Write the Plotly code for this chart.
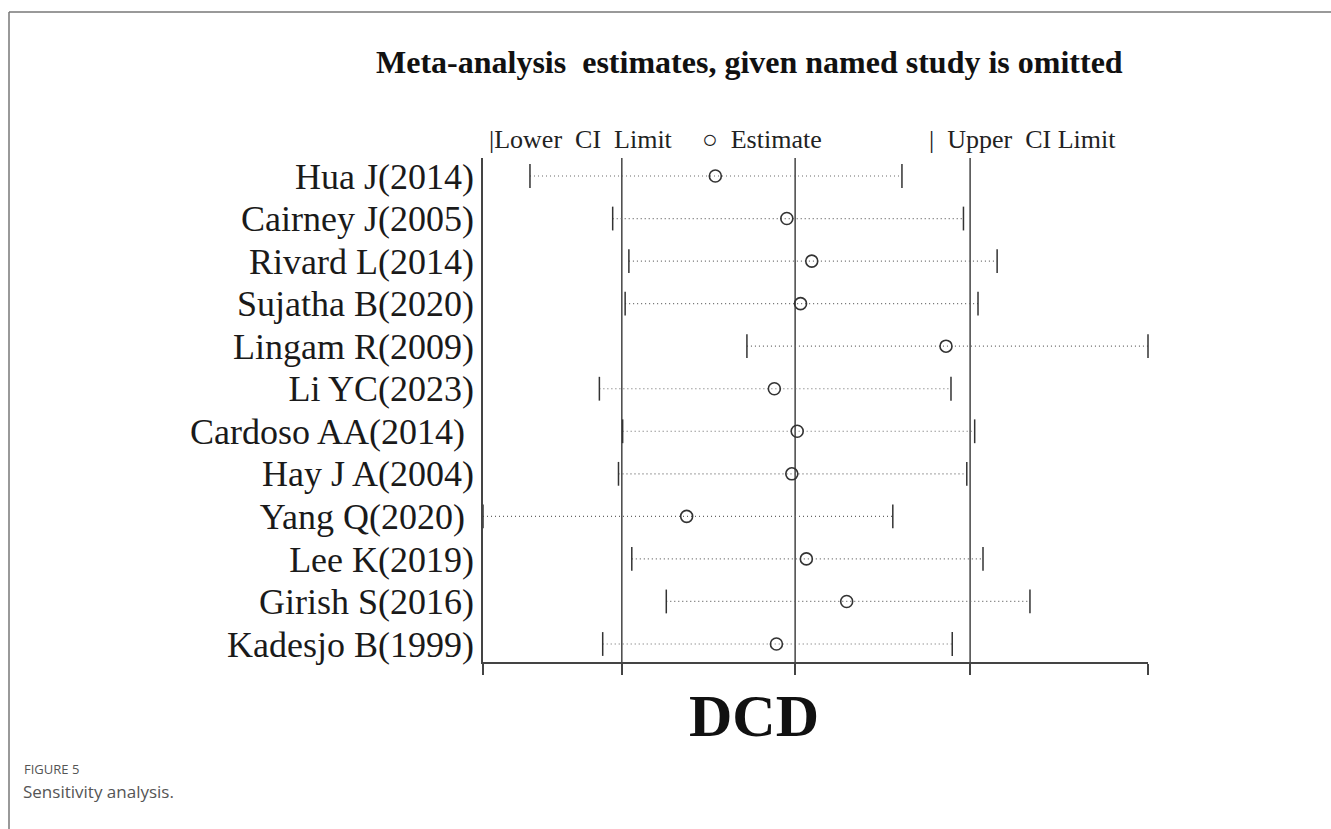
import plotly.graph_objects as go

# Leave-one-out meta-analysis: pooled estimate and CI with each study omitted
studies = [
    "Hua J(2014)", "Cairney J(2005)", "Rivard L(2014)", "Sujatha B(2020)",
    "Lingam R(2009)", "Li YC(2023)", "Cardoso AA(2014)\u00a0", "Hay J A(2004)",
    "Yang Q(2020)\u00a0", "Lee K(2019)", "Girish S(2016)", "Kadesjo B(1999)",
]
estimate = [7.59, 9.31, 9.91, 9.64, 13.14, 9.01, 9.56, 9.43, 6.90, 9.78, 10.75, 9.06]
lower_ci = [3.13, 5.12, 5.51, 5.42, 8.35, 4.80, 5.36, 5.26, 2.00, 5.58, 6.41, 4.88]
upper_ci = [12.08, 13.56, 14.37, 13.91, 18.00, 13.26, 13.83, 13.64, 11.86, 14.03, 15.16, 13.29]

# Overall pooled result (all studies)
overall_lower = 5.34
overall_est = 9.51
overall_upper = 13.72

x_min = min(lower_ci)
x_max = max(upper_ci)
rows = list(range(1, len(studies) + 1))

SERIF = "Liberation Serif, Times New Roman, serif"
INK = "#333333"

fig = go.Figure()

# dotted CI spans
for r, lo, hi in zip(rows, lower_ci, upper_ci):
    fig.add_trace(go.Scatter(
        x=[lo, hi], y=[r, r], mode="lines",
        line=dict(color="#666666", width=1.2, dash="1px,3px"),
        hoverinfo="skip", showlegend=False,
    ))

# CI end caps
fig.add_trace(go.Scatter(
    x=lower_ci + upper_ci, y=rows + rows, mode="markers",
    marker=dict(symbol="line-ns", size=17, line=dict(color=INK, width=1.5)),
    cliponaxis=False, showlegend=False,
))

# point estimates
fig.add_trace(go.Scatter(
    x=estimate, y=rows, mode="markers",
    marker=dict(symbol="circle-open", size=12, color=INK, line=dict(width=1.6)),
    cliponaxis=False, showlegend=False,
))

# reference lines at the overall CI and estimate
for v in (overall_lower, overall_est, overall_upper):
    fig.add_shape(type="line", xref="x", yref="paper", x0=v, x1=v, y0=0, y1=1,
                  line=dict(color="#444444", width=1.5), layer="below")

W, H = 1331, 829
L, R, T, B = 483, 1148, 158, 662


def px(xp):
    return (xp - L) / (R - L)


def py(yp):
    return (B - yp) / (B - T)


annotations = [
    dict(text="<b>Meta-analysis\u00a0 estimates, given named study is omitted</b>",
         x=px(749), y=py(62), font=dict(family=SERIF, size=32, color="#111111")),
    dict(text="<b>DCD</b>", x=px(754), y=py(716),
         font=dict(family=SERIF, size=60, color="#111111")),
    dict(text="|Lower\u00a0 CI\u00a0 Limit", x=px(487), y=py(140), xanchor="left",
         font=dict(family=SERIF, size=26, color="#222222")),
    dict(text="\u25cb\u00a0 Estimate", x=px(700), y=py(140), xanchor="left",
         font=dict(family=SERIF, size=26, color="#222222")),
    dict(text="|\u00a0 Upper\u00a0 CI Limit", x=px(927), y=py(140), xanchor="left",
         font=dict(family=SERIF, size=26, color="#222222")),
    dict(text="FIGURE 5", x=px(22), y=py(769), xanchor="left",
         font=dict(family="Open Sans, sans-serif", size=13, color="#555555")),
    dict(text="Sensitivity analysis.", x=px(21), y=py(791), xanchor="left",
         font=dict(family="Open Sans, sans-serif", size=17, color="#555555")),
]
for a in annotations:
    a.update(xref="paper", yref="paper", showarrow=False, yanchor="middle")
    a.setdefault("xanchor", "center")

# outer frame (top and left edges)
fig.add_shape(type="line", xref="paper", yref="paper",
              x0=px(9), x1=px(W), y0=py(12), y1=py(12),
              line=dict(color="#999999", width=2))
fig.add_shape(type="line", xref="paper", yref="paper",
              x0=px(9), x1=px(9), y0=py(12), y1=py(H),
              line=dict(color="#777777", width=1.5))

fig.update_layout(
    width=W, height=H,
    margin=dict(l=L, r=W - R, t=T, b=H - B),
    paper_bgcolor="white", plot_bgcolor="white",
    annotations=annotations,
    xaxis=dict(
        range=[x_min, x_max], showgrid=False, zeroline=False,
        tickvals=[x_min, overall_lower, overall_est, overall_upper, x_max],
        ticks="outside", ticklen=11, tickwidth=1.5, tickcolor="#444444",
        showticklabels=False, showline=True, linecolor="#444444", linewidth=1.5,
    ),
    yaxis=dict(
        range=[12.423, 0.577], showgrid=False, zeroline=False,
        tickvals=rows, ticktext=studies, ticks="",
        tickfont=dict(family=SERIF, size=36, color="#1a1a1a"),
        showline=True, linecolor="#444444", linewidth=1.5, ticklabelstandoff=0,
    ),
)

fig.write_html("out.html")
